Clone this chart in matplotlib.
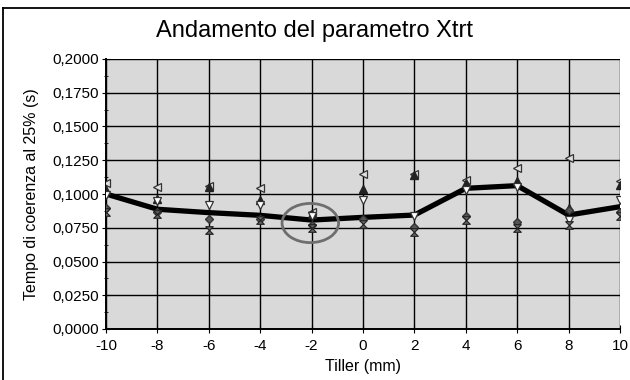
import matplotlib.pyplot as plt
import numpy as np
from matplotlib.patches import Ellipse
from matplotlib.lines import Line2D
from matplotlib.ticker import MultipleLocator, FuncFormatter

plt.rcParams['font.family'] = ['Liberation Sans', 'DejaVu Sans']
plt.rcParams['axes.unicode_minus'] = False

tiller = [-10, -8, -6, -4, -2, 0, 2, 4, 6, 8, 10]

# linea media
media = [0.1000, 0.0887, 0.0862, 0.0842, 0.0807, 0.0827, 0.0844, 0.1042, 0.1062, 0.0844, 0.0906]

# singole misure
s_left = [0.1080, 0.1055, 0.1060, 0.1045, 0.0870, 0.1150, 0.1148, 0.1105, 0.1190, 0.1270, 0.1100]
s_up = [0.1030, 0.0965, 0.1050, 0.0955, 0.0855, 0.1040, 0.1140, 0.1085, 0.1100, 0.0900, 0.1070]
s_down = [0.0990, 0.0950, 0.0918, 0.0918, 0.0840, 0.0956, 0.0840, 0.1030, 0.1050, 0.0807, 0.0956]
s_diam = [0.0894, 0.0870, 0.0812, 0.0813, 0.0770, 0.0815, 0.0753, 0.0837, 0.0795, 0.0880, 0.0870]
s_hour = [0.0865, 0.0855, 0.0733, 0.0810, 0.0750, 0.0775, 0.0720, 0.0807, 0.0746, 0.0770, 0.0835]

fig = plt.figure(figsize=(6.3, 3.8), dpi=100)
ax = fig.add_axes([106/630, 1-329/380, (620-106)/630, (329-59)/380])
ax.set_facecolor('#d9d9d9')

ax.set_xlim(-10, 10)
ax.set_ylim(0, 0.2)
ax.xaxis.set_major_locator(MultipleLocator(2))
ax.yaxis.set_major_locator(MultipleLocator(0.025))
ax.yaxis.set_minor_locator(MultipleLocator(0.0125))
ax.yaxis.set_major_formatter(FuncFormatter(lambda v, p: ('%.4f' % v).replace('.', ',')))
ax.grid(True, which='major', color='black', lw=1.0)
ax.set_axisbelow(True)
for s in ['top', 'right']:
    ax.spines[s].set_visible(False)
for s in ['left', 'bottom']:
    ax.spines[s].set_linewidth(1.4)
ax.tick_params(which='both', direction='inout', labelsize=11, colors='black')
ax.tick_params(which='major', length=6, pad=2)
ax.tick_params(which='minor', length=3)
ax.tick_params(axis='x', pad=4)

ax.plot(tiller, media, color='black', lw=3.8, solid_joinstyle='miter', zorder=3)

hourglass = [(-1, 1), (1, 1), (-1, -1), (1, -1), (-1, 1)]
ms = 5.5
ax.plot(tiller, s_left, ls='none', marker='<', ms=ms, mfc='#e0e0e0', mec='#333333', mew=0.9, zorder=4)
ax.plot(tiller, s_up, ls='none', marker='^', ms=ms, mfc='#222222', mec='#222222', zorder=4)
ax.plot(tiller, s_down, ls='none', marker='v', ms=ms, mfc='white', mec='#333333', mew=0.9, zorder=4)
ax.plot(tiller, s_diam, ls='none', marker='D', ms=4.3, mfc='#555555', mec='#333333', zorder=4)
ax.plot(tiller, s_hour, ls='none', marker=hourglass, ms=ms, mfc='#666666', mec='#222222', mew=0.8, zorder=4)

ax.add_patch(Ellipse((-2.05, 0.0785), 2.2, 0.029, fill=False, ec='#6e6e6e', lw=2, zorder=5))

fig.text(314/630, 1-37/380, 'Andamento del parametro Xtrt', ha='center', va='baseline', fontsize=17)
fig.text(363/630, 1-367/380, 'Tiller (mm)', ha='center', va='center', fontsize=11.5)
fig.text(32/630, 1-194/380, 'Tempo di coerenza al 25% (s)', ha='center', va='center',
         rotation=90, fontsize=11.5)

fig.add_artist(Line2D([3/630, 3/630], [0, 1-8/380], color='black', lw=1.3))
fig.add_artist(Line2D([3/630, 1], [1-8/380, 1-8/380], color='black', lw=1.3))

fig.savefig('out.png', dpi=100)
